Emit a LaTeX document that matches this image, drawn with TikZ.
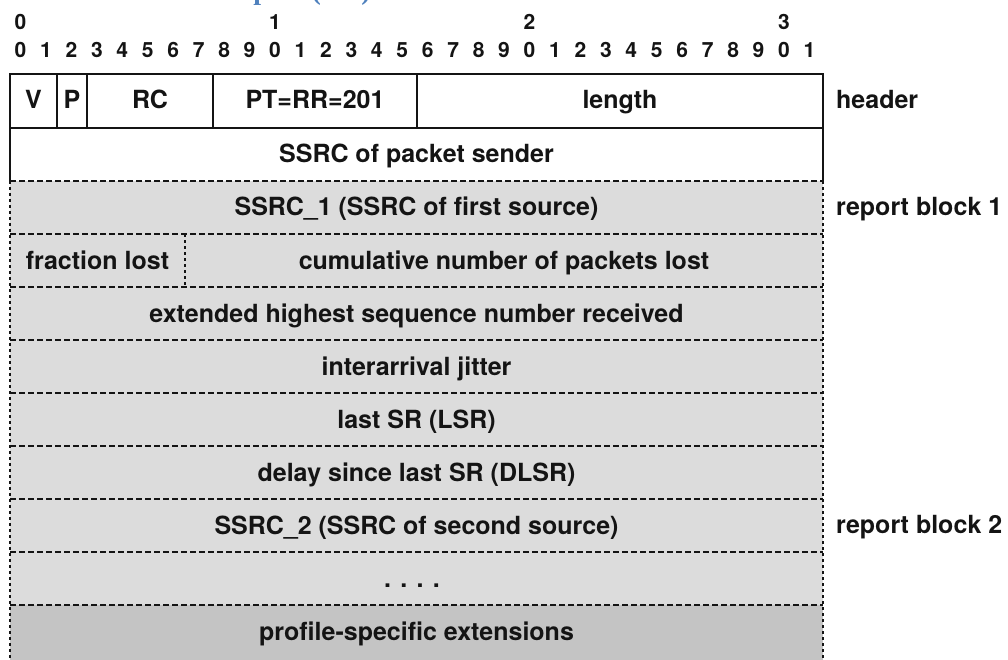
\documentclass[tikz,border=0pt]{standalone}
\usepackage{fontspec}
\newfontfamily\heros{TeX Gyre Heros}
\newfontfamily\headserif{Liberation Serif}
\definecolor{rowgrey}{HTML}{DCDCDC}
\definecolor{extgrey}{HTML}{C4C4C4}
\definecolor{ink}{HTML}{141414}
\definecolor{headblue}{RGB}{79,129,189}
\tikzset{
  cell/.style={font=\heros\bfseries\fontsize{25}{28}\selectfont, text=ink, inner sep=0pt,
               text height=18pt, text depth=0pt},
  bitnum/.style={font=\heros\bfseries\fontsize{21}{24}\selectfont, text=ink, inner sep=0pt,
               text height=15pt, text depth=0pt},
  sidelabel/.style={cell, anchor=west},
  frame/.style={draw=ink, line width=1.7pt},
  rowrule/.style={draw=ink, line width=1.8pt, dash pattern=on 5.5pt off 3.5pt},
  siderule/.style={draw=ink, line width=2pt, dash pattern=on 3pt off 3pt},
}
\begin{document}
\begin{tikzpicture}[x=1pt,y=-1pt]
\useasboundingbox (0,0) rectangle (1008,660);

% section heading above the figure, cut by the page edge
\begin{scope}
  \clip (0,0) rectangle (1008,660);
  \node[anchor=base east, inner sep=0pt, text=headblue,
        font=\headserif\bfseries\fontsize{28}{32}\selectfont] (heading) at (371,-0.5) {Receiver Report (RR)};
\end{scope}

% bit numbering
\foreach \t/\i in {0/0,1/10,2/20,3/30}
  \node[bitnum] (tens\i) at ({20.5+25.45*\i},22) {\t};
\foreach \i in {0,...,31}{
  \pgfmathtruncatemacro{\d}{mod(\i,10)}
  \node[bitnum] (bit\i) at ({20.5+25.45*\i},50) {\d};
}

% shaded report area
\fill[rowgrey] (10,181) rectangle (823,605);
\fill[extgrey] (10,605) rectangle (823,662);

% header and sender SSRC frame
\draw[frame] (10,181) -- (10,74) -- (823,74) -- (823,181);
\draw[frame] (10,128) -- (823,128);
\foreach \x in {57,87,213,417}
  \draw[frame] (\x,74) -- (\x,128);

% row separators of the report blocks
\foreach \y in {181,234,287,340,393,446,499,552,605}
  \draw[rowrule] (10,\y) -- (823,\y);
\draw[siderule] (10,181) -- (10,662);
\draw[siderule] (823,181) -- (823,662);
\draw[siderule] (185,234) -- (185,287);

% field names
\node[cell] (v) at (33.5,100) {V};
\node[cell] (p) at (72,100) {P};
\node[cell] (rc) at (150,100) {RC};
\node[cell] (pt) at (315,100) {PT=RR=201};
\node[cell] (len) at (620,100) {length};
\node[cell] (ssrc) at (416.5,154) {SSRC of packet sender};
\node[cell] (ssrc1) at (416.5,207) {SSRC\_1 (SSRC of first source)};
\node[cell] (frac) at (97.5,260) {fraction lost};
\node[cell] (cum) at (504,260) {cumulative number of packets lost};
\node[cell] (ext) at (416.5,313) {extended highest sequence number received};
\node[cell] (jit) at (416.5,366) {interarrival jitter};
\node[cell] (lsr) at (416.5,419) {last SR (LSR)};
\node[cell] (dlsr) at (416.5,472) {delay since last SR (DLSR)};
\node[cell] (ssrc2) at (416.5,525) {SSRC\_2 (SSRC of second source)};
\node[cell] (more) at (412,578) {. . . .};
\node[cell] (prof) at (416.5,631) {profile-specific extensions};

% block labels
\node[sidelabel] (lhead) at (836,100) {header};
\node[sidelabel] (lrb1) at (836,206) {report block 1};
\node[sidelabel] (lrb2) at (836,524) {report block 2};
\end{tikzpicture}
\end{document}
